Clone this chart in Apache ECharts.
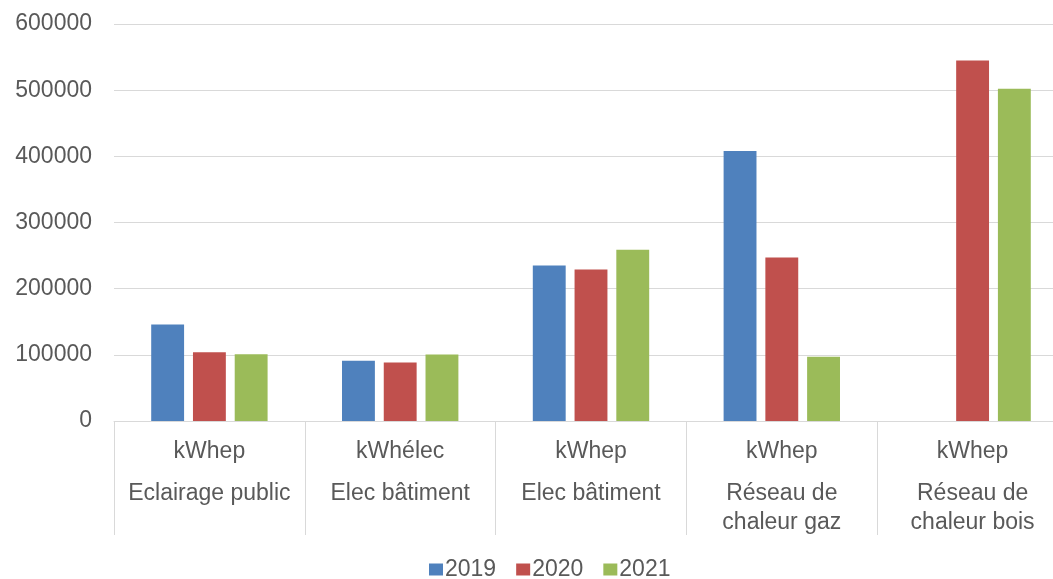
<!DOCTYPE html>
<html>
<head>
<meta charset="utf-8">
<script src="https://cdn.jsdelivr.net/npm/echarts@6/dist/echarts.min.js"></script>
<style>
  html, body { margin: 0; padding: 0; background: #fff; overflow: hidden; }
  #chart { width: 1068px; height: 579px; }
</style>
</head>
<body>
<div id="chart"></div>
<script>
const units = ['kWhep', 'kWhélec', 'kWhep', 'kWhep', 'kWhep']
const names = ['Eclairage public', 'Elec bâtiment', 'Elec bâtiment', 'Réseau de\nchaleur gaz', 'Réseau de\nchaleur bois']
const years = ['2019', '2020', '2021']
const values2019 = [146000, 91000, 235000, 408000, null]
const values2020 = [104000, 88500, 229000, 247000, 545000]
const values2021 = [101000, 100500, 259000, 97000, 502000]
const yTicks = [0, 100000, 200000, 300000, 400000, 500000, 600000]

const colors = ['#4F81BD', '#C0504D', '#9BBB59']
const textColor = '#595959'
const lineColor = '#d9d9d9'
const font = 'Arial, "Liberation Sans", sans-serif'

// plot runs past the right edge like the cropped original
const chart = echarts.init(document.getElementById('chart'))

const seriesData = [values2019, values2020, values2021]

const option = {
  animation: false,
  color: colors,
  textStyle: { fontFamily: font },
  grid: {
    left: 114,
    right: 0,
    top: 24,
    bottom: 158
  },
  legend: {
    data: years,
    top: 553,
    left: 424,
    icon: 'rect',
    itemWidth: 14,
    itemHeight: 12,
    itemGap: 20,
    textStyle: { color: textColor, fontSize: 23, fontFamily: font, padding: [0, 0, 0, -3] }
  },
  xAxis: {
    type: 'category',
    data: names.map((n, i) => units[i] + '|' + n),
    axisLine: { lineStyle: { color: lineColor, width: 1 } },
    axisTick: { show: true, interval: 0, length: 114, lineStyle: { color: lineColor } },
    axisLabel: {
      interval: 0,
      margin: 4,
      color: textColor,
      fontFamily: font,
      formatter: function (v) {
        const parts = v.split('|')
        const lines = parts[1].split('\n').map(s => '{n|' + s + '}')
        return '{u|' + parts[0] + '}\n' + lines.join('\n')
      },
      rich: {
        u: { fontSize: 23, lineHeight: 54, color: textColor, fontFamily: font },
        n: { fontSize: 23, lineHeight: 29, color: textColor, fontFamily: font }
      }
    }
  },
  yAxis: {
    type: 'value',
    min: yTicks[0],
    max: yTicks[yTicks.length - 1],
    interval: 100000,
    axisLine: { show: false },
    axisTick: { show: false },
    axisLabel: {
      color: textColor,
      fontSize: 23,
      margin: 22,
      fontFamily: font,
      formatter: v => String(v)
    },
    splitLine: { lineStyle: { color: lineColor, width: 1 } }
  },
  series: years.map((y, i) => ({
    name: y,
    type: 'bar',
    data: seriesData[i],
    barGap: '27%',
    barCategoryGap: '39%',
    itemStyle: { color: colors[i] }
  }))
}

chart.setOption(option)
</script>
</body>
</html>
